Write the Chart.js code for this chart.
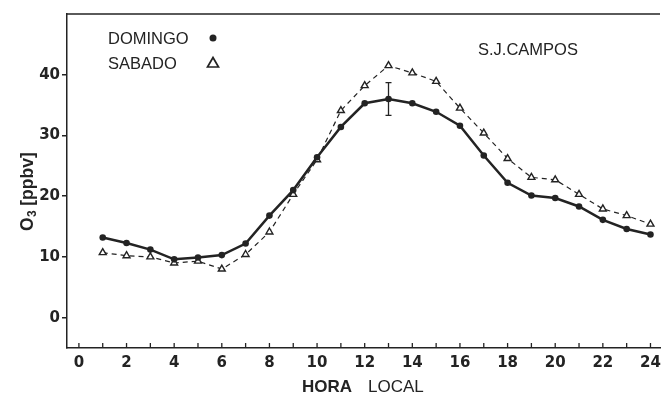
<!DOCTYPE html>
<html>
<head>
<meta charset="utf-8">
<script src="https://cdn.jsdelivr.net/npm/chart.js@4.4.0/dist/chart.umd.min.js"></script>
<style>
  html, body { margin:0; padding:0; background:#fff; }
  #wrap { width:667px; height:396px; }
</style>
</head>
<body>
<div id="wrap"><canvas id="c"></canvas></div>
<script>
// hora local 1..24
const horas = [1,2,3,4,5,6,7,8,9,10,11,12,13,14,15,16,17,18,19,20,21,22,23,24];
const domingo = [13.2,12.3,11.2,9.6,9.9,10.3,12.2,16.8,21.0,26.4,31.4,35.3,36.0,35.3,33.9,31.6,26.7,22.2,20.1,19.7,18.3,16.1,14.6,13.7];
const sabado  = [10.7,10.2,10.0,9.0,9.3,8.0,10.4,14.1,20.3,26.0,34.1,38.2,41.5,40.3,38.9,34.5,30.4,26.2,23.1,22.7,20.3,17.9,16.8,15.4];
// barra de erro (domingo, 13h)
const erroHora = 13;
const erroMin = 33.3;
const erroMax = 38.7;
const yTicks = [0,10,20,30,40];
const xTicks = [0,1,2,3,4,5,6,7,8,9,10,11,12,13,14,15,16,17,18,19,20,21,22,23,24];

const tinta = '#232323';

const moldura = {
  id: 'moldura',
  afterDatasetsDraw(chart) {
    const ctx = chart.ctx;
    const xs = chart.scales.x, ys = chart.scales.y;
    const a = chart.chartArea;
    ctx.save();
    ctx.strokeStyle = tinta;
    // linha de cima
    ctx.lineWidth = 1.5;
    ctx.beginPath();
    ctx.moveTo(a.left, a.top);
    ctx.lineTo(a.right, a.top);
    ctx.stroke();
    // ticks do eixo x (para dentro)
    ctx.lineWidth = 1.3;
    xTicks.forEach(v => {
      const px = xs.getPixelForValue(v);
      ctx.beginPath();
      ctx.moveTo(px, a.bottom);
      ctx.lineTo(px, a.bottom - 5);
      ctx.stroke();
    });
    // barra de erro
    const ex = xs.getPixelForValue(erroHora);
    const y1 = ys.getPixelForValue(erroMin), y2 = ys.getPixelForValue(erroMax);
    ctx.lineWidth = 1.3;
    ctx.beginPath();
    ctx.moveTo(ex, y1); ctx.lineTo(ex, y2);
    ctx.moveTo(ex - 3, y1); ctx.lineTo(ex + 3, y1);
    ctx.moveTo(ex - 3, y2); ctx.lineTo(ex + 3, y2);
    ctx.stroke();

    // legenda
    ctx.fillStyle = tinta;
    ctx.font = '16.5px "Liberation Sans", Arial, sans-serif';
    ctx.textBaseline = 'middle';
    ctx.textAlign = 'left';
    ctx.fillText('DOMINGO', 108, 39);
    ctx.fillText('SABADO', 108, 64);
    ctx.fillText('S.J.CAMPOS', 478, 50);
    ctx.beginPath();
    ctx.arc(213, 38, 3.5, 0, Math.PI * 2);
    ctx.fill();
    ctx.lineWidth = 1.7;
    ctx.beginPath();
    ctx.moveTo(213, 57.5); ctx.lineTo(218.5, 67); ctx.lineTo(207.5, 67); ctx.closePath();
    ctx.stroke();

    // titulo eixo x
    ctx.font = 'bold 17px "Liberation Sans", Arial, sans-serif';
    ctx.fillText('HORA', 302, 387);
    ctx.font = '17px "Liberation Sans", Arial, sans-serif';
    ctx.fillText('LOCAL', 368, 387);

    // titulo eixo y, com subscrito
    ctx.translate(28, 231);
    ctx.rotate(-Math.PI / 2);
    ctx.textAlign = 'left';
    ctx.font = 'bold 17.5px "Liberation Sans", Arial, sans-serif';
    ctx.fillText('O', 0, 0);
    let w = ctx.measureText('O').width;
    ctx.font = 'bold 12px "Liberation Sans", Arial, sans-serif';
    ctx.fillText('3', w + 0.5, 4.5);
    w += ctx.measureText('3').width + 5;
    ctx.font = 'bold 17.5px "Liberation Sans", Arial, sans-serif';
    ctx.fillText('[ppbv]', w, 0);
    ctx.restore();
  }
};

new Chart(document.getElementById('c'), {
  type: 'line',
  data: {
    datasets: [{
      label: 'DOMINGO',
      data: horas.map((h, i) => ({ x: h, y: domingo[i] })),
      borderColor: tinta,
      backgroundColor: tinta,
      borderWidth: 2.5,
      pointStyle: 'circle',
      pointRadius: 3.3,
      pointBorderWidth: 0,
      tension: 0
    }, {
      label: 'SABADO',
      data: horas.map((h, i) => ({ x: h, y: sabado[i] })),
      borderColor: tinta,
      backgroundColor: '#fff',
      borderWidth: 1.2,
      borderDash: [5, 4],
      pointStyle: 'triangle',
      pointRadius: 4,
      pointBorderWidth: 1.4,
      tension: 0
    }]
  },
  options: {
    responsive: true,
    maintainAspectRatio: false,
    animation: false,
    layout: { padding: { top: 14, right: 0, left: 0, bottom: 0 } },
    plugins: { legend: { display: false }, tooltip: { enabled: false } },
    scales: {
      x: {
        type: 'linear',
        min: -0.5,
        max: 24.4,
        afterBuildTicks: s => { s.ticks = xTicks.map(v => ({ value: v })); },
        afterFit: s => { s.height = 48; },
        grid: { display: true, drawOnChartArea: false, drawTicks: false },
        border: { display: true, color: tinta, width: 1.5 },
        ticks: {
          autoSkip: false,
          maxRotation: 0,
          padding: 6,
          color: tinta,
          font: { family: '"DejaVu Sans", sans-serif', size: 15, weight: 'bold' },
          callback: v => (v % 2 === 0 ? String(v) : '')
        }
      },
      y: {
        min: -5,
        max: 50,
        afterBuildTicks: s => { s.ticks = yTicks.map(v => ({ value: v })); },
        afterFit: s => { s.width = 67; },
        grid: { display: true, drawOnChartArea: false, drawTicks: true, tickLength: 5, color: tinta, lineWidth: 1.5 },
        border: { display: true, color: tinta, width: 1.5 },
        ticks: {
          padding: 2,
          color: tinta,
          font: { family: '"DejaVu Sans", sans-serif', size: 15, weight: 'bold' }
        }
      }
    }
  },
  plugins: [moldura]
});
</script>
</body>
</html>
